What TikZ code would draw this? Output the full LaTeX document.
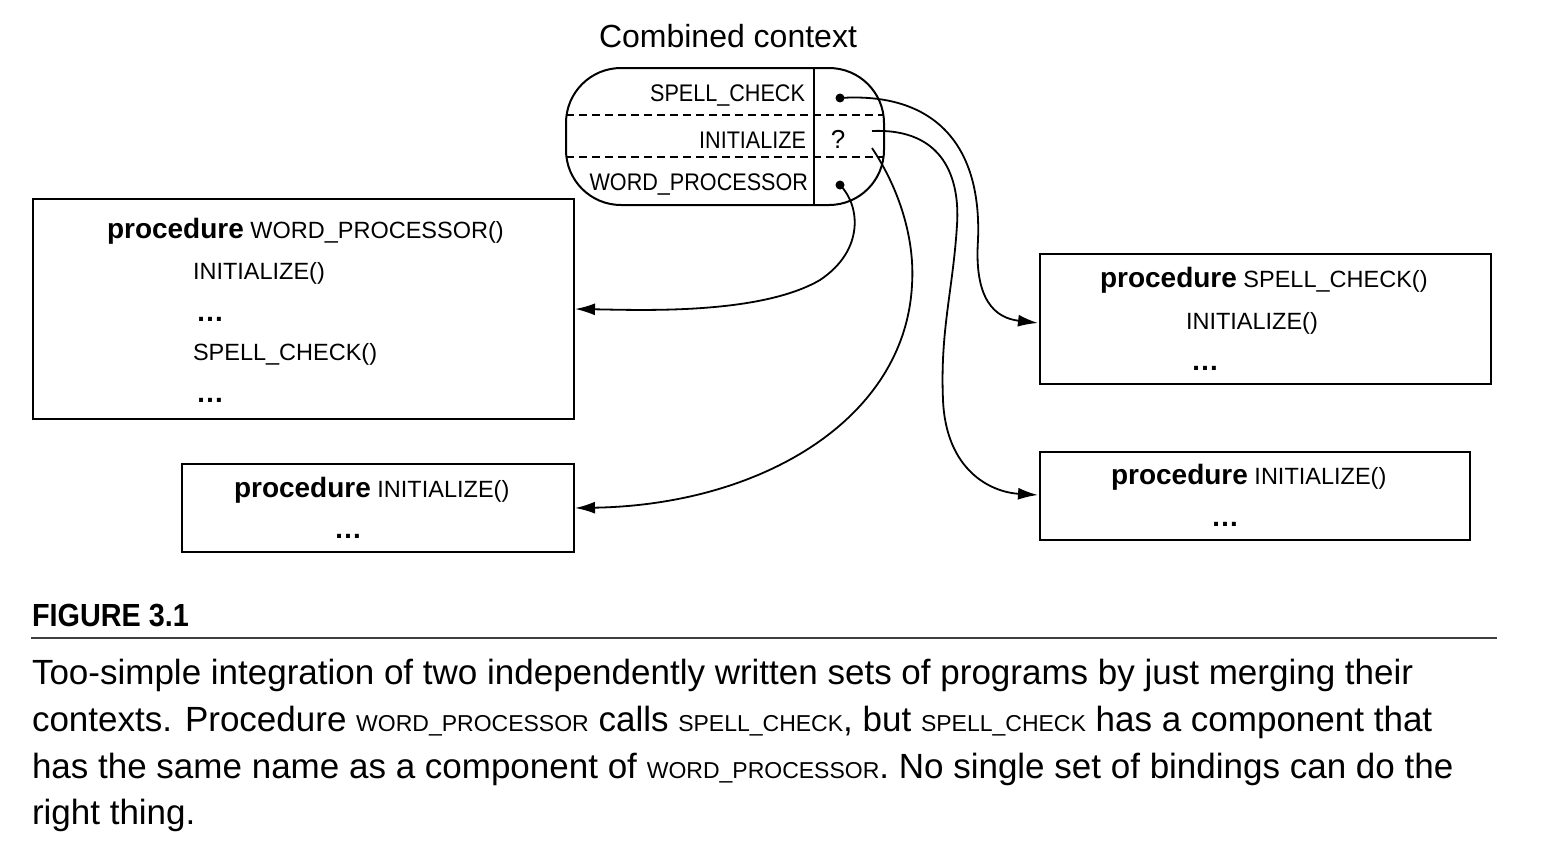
\documentclass[tikz,border=0pt]{standalone}
\usepackage{fontspec}
\setmainfont{Liberation Sans}
\newfontfamily\capfont{Liberation Sans}
\newfontfamily\figfont{Liberation Sans}[FakeStretch=0.9]
\newfontfamily\ccfont{Liberation Sans}[FakeStretch=0.9]
\usetikzlibrary{arrows.meta}
\newcommand{\fsz}[1]{\fontsize{#1}{#1}\selectfont}
\newcommand{\proc}{{\bfseries\fsz{28}procedure}}
\newcommand{\capsc}[1]{{\fsz{23}#1}}
\begin{document}
\begin{tikzpicture}[x=1pt,y=-1pt,line width=2pt,
  lbl/.style={inner sep=0pt,anchor=base west,font=\fsz{23.5}},
  rlbl/.style={inner sep=0pt,anchor=base east,font=\ccfont\fsz{24}},
  dotsl/.style={inner sep=0pt,anchor=base,font=\bfseries\fsz{28}},
  captxt/.style={inner sep=0pt,anchor=base west,font=\capfont\fsz{35}},
  box/.style={draw,line width=2pt,inner sep=0pt,anchor=north west},
  pin/.style={circle,fill=black,inner sep=0pt,minimum size=9pt},
  arr/.style={line width=1.8pt,-{Latex[length=20pt,width=12pt]}},
  dsh/.style={line width=2pt,dash pattern=on 8pt off 5pt}]
\useasboundingbox (0,0) rectangle (1558,852);

% title
\node[inner sep=0pt,anchor=base,font=\fsz{32}] (title) at (728,47) {Combined context};

% combined context shape
\node[draw,rounded corners=55pt,minimum width=318pt,minimum height=137pt,inner sep=0pt] (cc) at (725,136.5) {};
\begin{scope}
  \clip[rounded corners=55pt] (566,68) rectangle (884,205);
  \draw[dsh] (566,115) -- (884,115);
  \draw[dsh] (566,157) -- (884,157);
\end{scope}
\draw (814,68) -- (814,205);
\node[rlbl] (n1) at (806,101) {SPELL\_CHECK};
\node[rlbl] (n2) at (807,148) {INITIALIZE};
\node[rlbl] (n3) at (809,190) {WORD\_PROCESSOR};
\node[pin] (d1) at (840,98) {};
\node[inner sep=0pt,anchor=base,font=\fsz{26}] (q) at (838,148) {?};
\node[pin] (d3) at (840,185) {};
\coordinate (s2) at (872,131);
\coordinate (s3) at (872,148);

% boxes
\node[box,minimum width=541pt,minimum height=220pt] (wp) at (32,198) {};
\node[box,minimum width=392pt,minimum height=88pt] (il) at (181,463) {};
\node[box,minimum width=451pt,minimum height=130pt] (sc) at (1039,253) {};
\node[box,minimum width=430pt,minimum height=88pt] (ir) at (1039,451) {};

% box texts
\node[lbl] (wp1) at (106,238) {\proc\ WORD\_PROCESSOR()};
\node[lbl] (wp2) at (192,279) {INITIALIZE()};
\node[dotsl] (wp3) at (210,321) {\dots};
\node[lbl] (wp4) at (192,360) {SPELL\_CHECK()};
\node[dotsl] (wp5) at (210,402) {\dots};

\node[lbl] (il1) at (233,497) {\proc\ INITIALIZE()};
\node[dotsl] (il2) at (348,538) {\dots};

\node[lbl] (sc1) at (1099,287) {\proc\ SPELL\_CHECK()};
\node[lbl] (sc2) at (1185,329) {INITIALIZE()};
\node[dotsl] (sc3) at (1205,370) {\dots};

\node[lbl] (ir1) at (1110,484) {\proc\ INITIALIZE()};
\node[dotsl] (ir2) at (1225,526) {\dots};

% connector targets
\coordinate (t1) at (1038,323);
\coordinate (t2) at (1038,495);
\coordinate (t3) at (575,508);
\coordinate (t4) at (575,309);

% connectors
\draw[arr] (d1.center) .. controls (930,92) and (982,140) .. (978,240)
  .. controls (974,300) and (995,318) .. (t1);
\draw[arr] (s2) .. controls (945,128) and (960,180) .. (957,225)
  .. controls (953,290) and (940,330) .. (943,400)
  .. controls (946,470) and (990,492) .. (t2);
\draw[arr] (s3) .. controls (900,190) and (915,240) .. (912,285)
  .. controls (905,420) and (760,505) .. (t3);
\draw[arr] (d3.center) .. controls (860,205) and (865,250) .. (820,280)
  .. controls (760,315) and (640,310) .. (t4);

% caption
\node[inner sep=0pt,anchor=base west,font=\figfont\bfseries\fsz{32}] (fig) at (31,626) {FIGURE 3.1};
\coordinate (r1) at (31,638);
\coordinate (r2) at (1497,638);
\draw[line width=1.5pt,black!75] (r1) -- (r2);
\node[captxt] (c1) at (31,684) {Too-simple integration of two independently written sets of programs by just merging their};
\node[captxt] (c2) at (31,731) {contexts. Procedure \capsc{WORD\_PROCESSOR} calls \capsc{SPELL\_CHECK}, but \capsc{SPELL\_CHECK} has a component that};
\node[captxt] (c3) at (31,778) {has the same name as a component of \capsc{WORD\_PROCESSOR}. No single set of bindings can do the};
\node[captxt] (c4) at (31,824) {right thing.};
\end{tikzpicture}
\end{document}
